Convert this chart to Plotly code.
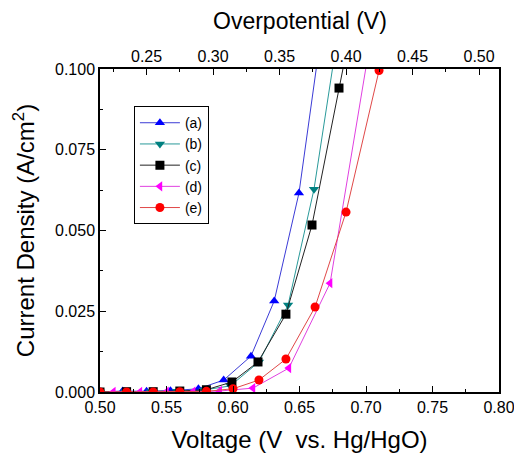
import plotly.graph_objects as go

# voltage (V vs. Hg/HgO) and current density (A/cm2) for each sample
v_a = [0.500, 0.517, 0.535, 0.553, 0.574, 0.593, 0.6135, 0.631, 0.6496, 0.670]
j_a = [0.0, 0.0003, 0.0002, 0.0004, 0.0010, 0.0037, 0.0111, 0.0282, 0.0616, 0.122]

v_b = [0.500, 0.519, 0.538, 0.558, 0.578, 0.598, 0.6195, 0.6414, 0.6609, 0.680]
j_b = [0.0, 0.0001, 0.0001, 0.0002, 0.0006, 0.0019, 0.0093, 0.0269, 0.0628, 0.114]

v_c = [0.500, 0.520, 0.540, 0.560, 0.580, 0.5992, 0.6188, 0.6398, 0.6594, 0.6797, 0.700]
j_c = [0.0, 0.0001, 0.0001, 0.0003, 0.0007, 0.0031, 0.0093, 0.0241, 0.0517, 0.0941, 0.136]

v_d = [0.510, 0.530, 0.550, 0.570, 0.590, 0.615, 0.642, 0.673, 0.703]
j_d = [0.0, 0.0, 0.0001, 0.0001, 0.0003, 0.0012, 0.0074, 0.0337, 0.108]

v_e = [0.500, 0.520, 0.540, 0.560, 0.580, 0.600, 0.6195, 0.6398, 0.6617, 0.685, 0.7098]
j_e = [0.0, 0.0, 0.0, 0.0001, 0.0002, 0.0010, 0.0037, 0.0102, 0.0263, 0.0557, 0.0995]

labels = ["(a)", "(b)", "(c)", "(d)", "(e)"]
marker_colors = ["#0000ff", "#008080", "#000000", "#ff00ff", "#ff0000"]
line_colors = ["#3b3bd6", "#2a9a9a", "#222222", "#e040e0", "#e04848"]
symbols = ["triangle-up", "triangle-down", "square", "triangle-left", "circle"]

# top axis offset: overpotential = V - 0.285
top_range = [0.215, 0.515]

fig = go.Figure()
series = [(v_a, j_a), (v_b, j_b), (v_c, j_c), (v_d, j_d), (v_e, j_e)]
for (vx, jy), name, mc, lc, sym in zip(series, labels, marker_colors, line_colors, symbols):
    fig.add_trace(go.Scatter(
        x=vx, y=jy, name=name, mode="lines+markers",
        line=dict(color=lc, width=1),
        marker=dict(color=mc, symbol=sym, size=9),
    ))

# invisible trace so the top axis is drawn
fig.add_trace(go.Scatter(x=top_range, y=[0, 0], xaxis="x2", mode="markers",
                         marker=dict(opacity=0), showlegend=False, hoverinfo="skip"))

font = "Liberation Sans, Arial, sans-serif"
fig.update_layout(
    width=514, height=446,
    margin=dict(l=92, r=23, t=61, b=62),
    plot_bgcolor="white", paper_bgcolor="white",
    font=dict(family=font, size=16, color="black"),
    showlegend=True,
    legend=dict(x=0.085, y=0.885, xanchor="left", yanchor="top",
                bordercolor="black", borderwidth=1, bgcolor="white",
                font=dict(size=14), tracegroupgap=0, itemwidth=40),
    xaxis=dict(
        range=[0.5, 0.8], dtick=0.05, tickformat=".2f",
        showline=True, linecolor="black", linewidth=1.5, mirror=True,
        ticks="inside", ticklen=6, tickcolor="black",
        minor=dict(ticks="inside", ticklen=3, dtick=0.025, tickcolor="black"),
        showgrid=False, zeroline=False,
        title=dict(text="Voltage (V\u00a0 vs. Hg/HgO)", font=dict(size=24), standoff=16),
        automargin=False,
    ),
    xaxis2=dict(
        overlaying="x", side="top", anchor="y",
        range=top_range, dtick=0.05, tickformat=".2f",
        showline=False, ticks="inside", ticklen=6, tickcolor="black",
        minor=dict(ticks="inside", ticklen=3, dtick=0.025, tickcolor="black"),
        showgrid=False, zeroline=False, ticklabelstandoff=3,
        automargin=False,
    ),
    yaxis=dict(
        range=[0, 0.1], dtick=0.025, tickformat=".3f",
        showline=True, linecolor="black", linewidth=1.5, mirror=True,
        ticks="inside", ticklen=6, tickcolor="black",
        minor=dict(ticks="inside", ticklen=3, dtick=0.0125, tickcolor="black"),
        showgrid=False, zeroline=False,
        title=dict(text="Current Density (A/cm<sup>2</sup>)", font=dict(size=24), standoff=14),
        automargin=False,
    ),
    annotations=[dict(text="Overpotential (V)", xref="paper", yref="paper",
                      x=0.5, y=1, yshift=48, xanchor="center", yanchor="middle",
                      showarrow=False, font=dict(size=23))],
)

fig.write_html("out.html")
